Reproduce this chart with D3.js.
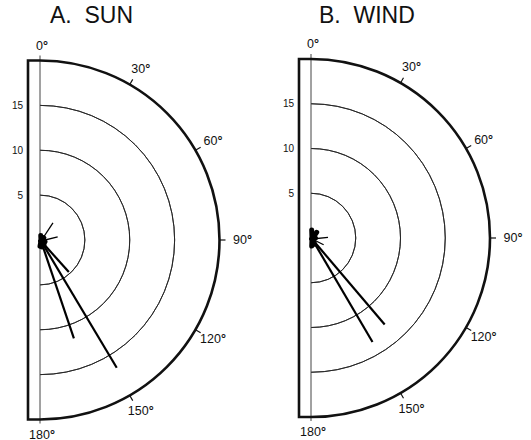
<!DOCTYPE html>
<html>
<head>
<meta charset="utf-8">
<script src="https://cdn.jsdelivr.net/npm/d3@7"></script>
<style>
  html, body { margin: 0; padding: 0; background: #fff; }
  svg { display: block; font-family: "Liberation Sans", Arial, sans-serif; }
</style>
</head>
<body>
<svg id="chart" width="531" height="440"></svg>
<script>
// ---- data ----
const panelTitles = ["A.  SUN", "B.  WIND"];
const ringValues = [5, 10, 15, 20];
const ringLabels = ["5", "10", "15"];
const angleTicks = [0, 30, 60, 90, 120, 150, 180];
const maxMagnitude = 20;

// Panel A (SUN): vector directions (deg) and magnitudes
const sunAngles     = [161, 149, 138, 37, 80, 10, 60, 110, 140, 165, 180];
const sunMagnitudes = [11.6, 16.6, 4.8, 2.4, 2.0, 0.5, 0.5, 0.6, 0.7, 0.8, 0.7];

// Panel B (WIND)
const windAngles     = [139.6, 149.4, 88, 118, 45, 5, 90, 150, 175];
const windMagnitudes = [12.7, 13.5, 1.9, 1.6, 0.9, 0.9, 0.5, 0.8, 0.9];

// ---- drawing ----
const svg = d3.select("#chart");
const panels = [
  { title: panelTitles[0], cx: 40, cy: 240, R: 179.5, titleX: 50, angles: sunAngles, mags: sunMagnitudes },
  { title: panelTitles[1], cx: 311, cy: 238, R: 179, titleX: 319, angles: windAngles, mags: windMagnitudes }
];

panels.forEach(p => {
  const g = svg.append("g");
  const r = d3.scaleLinear().domain([0, maxMagnitude]).range([0, p.R]);
  const a = d3.scaleLinear().domain([0, 180]).range([0, Math.PI]);
  const pt = (deg, rad) => [p.cx + rad * Math.sin(a(deg)), p.cy - rad * Math.cos(a(deg))];

  // title
  g.append("text").attr("x", p.titleX).attr("y", 23)
    .attr("font-size", 23).attr("fill", "#111")
    .style("white-space", "pre").text(p.title);

  // inner rings
  ringValues.filter(v => v < maxMagnitude).forEach(v => {
    g.append("path")
      .attr("transform", `translate(${p.cx},${p.cy})`)
      .attr("d", d3.arc()({ innerRadius: r(v), outerRadius: r(v), startAngle: 0, endAngle: Math.PI }))
      .attr("fill", "none").attr("stroke", "#222").attr("stroke-width", 0.9);
  });

  // axis line
  g.append("line").attr("x1", p.cx).attr("x2", p.cx)
    .attr("y1", p.cy - p.R - 5).attr("y2", p.cy + p.R + 4)
    .attr("stroke", "#444").attr("stroke-width", 1);

  // outer thick frame
  const left = p.cx - 12;
  const frame = d3.path();
  frame.moveTo(p.cx, p.cy - p.R);
  frame.lineTo(left, p.cy - p.R);
  frame.lineTo(left, p.cy + p.R);
  frame.lineTo(p.cx, p.cy + p.R);
  frame.arc(p.cx, p.cy, p.R, Math.PI / 2, -Math.PI / 2, true);
  g.append("path").attr("d", frame.toString())
    .attr("fill", "none").attr("stroke", "#111").attr("stroke-width", 2.6)
    .attr("stroke-linejoin", "miter");

  // ring labels
  ringLabels.forEach((lab, i) => {
    g.append("text").attr("x", left - 5).attr("y", p.cy - r(ringValues[i]))
      .attr("text-anchor", "end").attr("dominant-baseline", "central")
      .attr("font-size", 10).attr("fill", "#111").text(lab);
  });

  // angle ticks & labels
  angleTicks.forEach(t => {
    if (t > 0 && t < 180) {
      const [x1, y1] = pt(t, p.R);
      const [x2, y2] = pt(t, p.R + 6);
      g.append("line").attr("x1", x1).attr("y1", y1).attr("x2", x2).attr("y2", y2)
        .attr("stroke", "#111").attr("stroke-width", 1.2);
    }
    const rr = t === 90 ? p.R + 21 : (t === 0 || t === 180 ? p.R + 15 : p.R + 18);
    const [lx, ly] = pt(t, rr);
    const txt = g.append("text").attr("x", lx + 2).attr("y", ly)
      .attr("text-anchor", "middle").attr("dominant-baseline", "central")
      .attr("font-size", 12.5).attr("fill", "#111");
    txt.append("tspan").text(String(t));
    txt.append("tspan").attr("font-weight", "bold").text("°");
  });

  // vectors
  p.angles.forEach((ang, i) => {
    const m = p.mags[i];
    const [x2, y2] = pt(ang, r(m));
    g.append("line").attr("x1", p.cx + 1).attr("y1", p.cy + 1).attr("x2", x2).attr("y2", y2)
      .attr("stroke", "#000")
      .attr("stroke-width", m > 4 ? 2.2 : (m > 1 ? 1.3 : 5))
      .attr("stroke-linecap", m > 1 ? "butt" : "round");
  });
});
</script>
</body>
</html>
